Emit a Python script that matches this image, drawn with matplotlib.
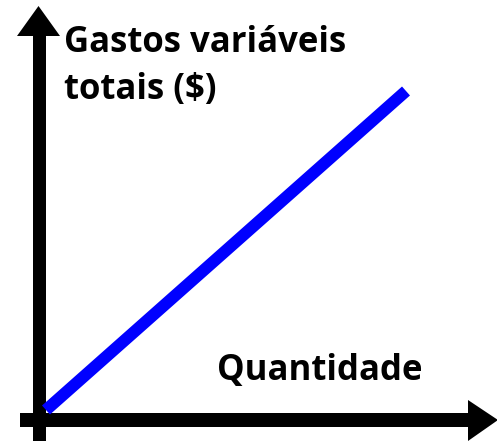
import matplotlib
matplotlib.use('Agg')
import matplotlib.pyplot as plt

# diagram coordinates in pixels (origin top-left)
W, H = 497, 441
origin = (38.5, 420)
line_x = [46, 406]
line_y = [410, 91]
y_label = 'Gastos variáveis\ntotais ($)'
x_label = 'Quantidade'

fig = plt.figure(figsize=(W / 100, H / 100), dpi=100)
ax = fig.add_axes([0, 0, 1, 1])
ax.set_xlim(0, W)
ax.set_ylim(H, 0)
ax.axis('off')

px = 72 / 100  # pixels -> points

# axes with arrowheads
ax.plot([origin[0], origin[0]], [H, 34], color='black', lw=13 * px, solid_capstyle='butt')
ax.fill([17, 60, origin[0]], [36, 36, 6], color='black', lw=0)
ax.plot([20, 470], [origin[1], origin[1]], color='black', lw=14 * px, solid_capstyle='butt')
ax.fill([468, 468, 498], [400, 441, 420], color='black', lw=0)

# blue line
ax.plot(line_x, line_y, color='#0000ff', lw=12 * px, solid_capstyle='butt')

font = dict(family='Open Sans', weight='bold', size=25, color='black')
ax.text(64, 52, y_label.split('\n')[0], ha='left', va='baseline', **font)
ax.text(64, 99, y_label.split('\n')[1], ha='left', va='baseline', **font)
ax.text(217, 380, x_label, ha='left', va='baseline', **font)

fig.savefig('out.png', dpi=100)
